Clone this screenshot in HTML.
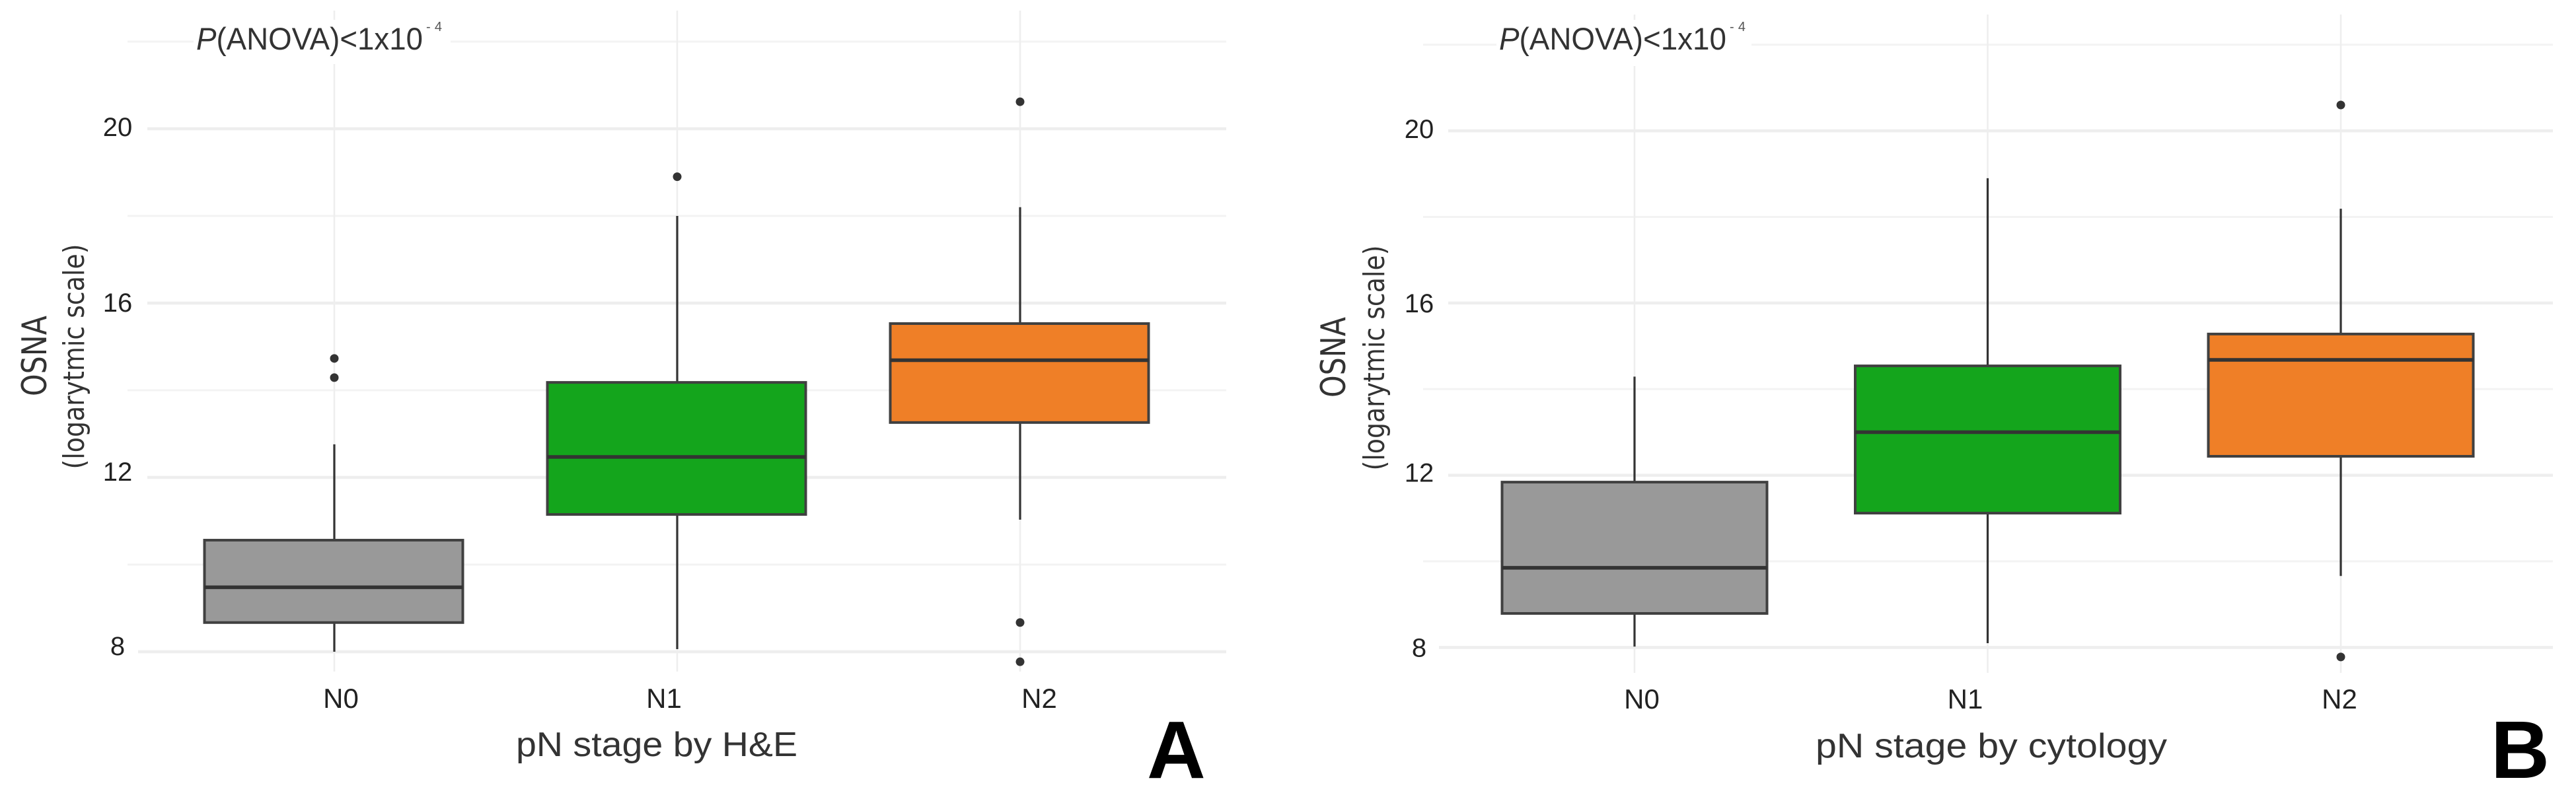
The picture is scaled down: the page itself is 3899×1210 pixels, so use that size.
<!DOCTYPE html>
<html lang="en">
<head>
<meta charset="utf-8">
<title>OSNA by pN stage</title>
<style>
html,body{margin:0;padding:0;background:#fff;width:3899px;height:1210px;overflow:hidden}
svg{display:block}
text{font-family:"Liberation Sans",sans-serif}
.tick{font-size:40px;fill:#222;text-anchor:middle}
.cat{font-size:42px;fill:#222;text-anchor:middle}
.xt{font-size:52px;fill:#333}
.y1{font-size:52px;fill:#333;font-family:"DejaVu Sans","Liberation Sans",sans-serif;text-anchor:middle}
.y2{font-size:44px;fill:#333;font-family:"DejaVu Sans","Liberation Sans",sans-serif;text-anchor:middle}
.ann{font-size:47px;fill:#333}
.sup{font-size:20px;fill:#555}
.panel{font-size:123px;font-weight:bold;fill:#000}
</style>
</head>
<body>
<svg id="figure" xmlns="http://www.w3.org/2000/svg" width="3899" height="1210" viewBox="0 0 3899 1210">
  <rect x="0" y="0" width="3899" height="1210" fill="#fff"/>
  <g id="chart-a"></g>
  <g id="chart-b"></g>

  <text class="y1" transform="translate(70,539) rotate(-90)" textLength="122" lengthAdjust="spacingAndGlyphs">OSNA</text>
  <text class="y2" transform="translate(127,540) rotate(-90)" textLength="341" lengthAdjust="spacingAndGlyphs">(logarytmic scale)</text>
  <text class="xt" x="781" y="1145" textLength="426" lengthAdjust="spacingAndGlyphs">pN stage by H&amp;E</text>
  <text class="ann" x="297" y="75" textLength="343" lengthAdjust="spacingAndGlyphs"><tspan font-style="italic">P</tspan>(ANOVA)&lt;1x10</text>
  <text class="sup" x="645" y="47" textLength="24" lengthAdjust="spacing">- 4</text>
  <text class="panel" x="1736" y="1178">A</text>

  <text class="y1" transform="translate(2036,541) rotate(-90)" textLength="122" lengthAdjust="spacingAndGlyphs">OSNA</text>
  <text class="y2" transform="translate(2095,542) rotate(-90)" textLength="341" lengthAdjust="spacingAndGlyphs">(logarytmic scale)</text>
  <text class="xt" x="2748" y="1147" textLength="532" lengthAdjust="spacingAndGlyphs">pN stage by cytology</text>
  <text class="ann" x="2269" y="75" textLength="344" lengthAdjust="spacingAndGlyphs"><tspan font-style="italic">P</tspan>(ANOVA)&lt;1x10</text>
  <text class="sup" x="2618" y="47" textLength="24" lengthAdjust="spacing">- 4</text>
  <text class="panel" x="3770" y="1178" textLength="89" lengthAdjust="spacingAndGlyphs">B</text>
</svg>

<script>
const categories = ['N0', 'N1', 'N2'];
const majorTicks = [8, 12, 16, 20];
const minorTicks = [10, 14, 18, 22];
const boxColors = ['#999999', '#14a51c', '#ef7f27'];

const q1A = [8.67, 11.15, 13.26];
const medianA = [9.48, 12.47, 14.69];
const q3A = [10.56, 14.18, 15.53];
const whiskerLowA = [8.0, 8.06, 11.03];
const whiskerHighA = [12.76, 18.0, 18.2];
const outliersA = [[14.73, 14.29], [18.9], [20.62, 8.67, 7.77]];

const q1B = [8.79, 11.12, 12.44];
const medianB = [9.85, 13.0, 14.68];
const q3B = [11.84, 14.54, 15.28];
const whiskerLowB = [8.02, 8.1, 9.66];
const whiskerHighB = [14.29, 18.9, 18.19];
const outliersB = [[], [], [20.6, 7.78]];

const SVGNS = 'http://www.w3.org/2000/svg';

function make(parent, tag, attrs) {
  const el = document.createElementNS(SVGNS, tag);
  Object.keys(attrs).forEach(function (k) { el.setAttribute(k, attrs[k]); });
  parent.appendChild(el);
  return el;
}

function drawChart(root, key, data, cfg) {
  const y = function (v) { return cfg.y8 - (v - 8) * cfg.yUnit; };
  const x = function (i) { return cfg.x0 + i * cfg.xStep; };

  minorTicks.forEach(function (v) {
    const line = make(root, 'line', { x1: cfg.minorStart, x2: cfg.right, y1: y(v), y2: y(v), stroke: '#f3f3f3', 'stroke-width': 3 });
    
    
  });
  majorTicks.forEach(function (v) {
    const line = make(root, 'line', { x1: v === 8 ? cfg.eightStart : cfg.majorStart, x2: cfg.right, y1: y(v), y2: y(v), stroke: '#eeeeee', 'stroke-width': 4.5 });
    
    
  });
  categories.forEach(function (c, i) {
    const line = make(root, 'line', { x1: x(i), x2: x(i), y1: cfg.vTop, y2: cfg.vBottom, stroke: '#eeeeee', 'stroke-width': 2.5 });
    
    
  });

  const mask = make(root, 'rect', { x: cfg.maskX, y: 30, width: cfg.maskW, height: cfg.maskBottom - 30, fill: '#fff' });
  
  

  categories.forEach(function (c, i) {
    const cx = x(i);
    const g = make(root, 'g', {});
    
    

    const whiskerUp = make(g, 'line', { x1: cx, x2: cx, y1: y(data.whiskerHigh[i]), y2: y(data.q3[i]), stroke: '#333', 'stroke-width': 3.2 });
    
    

    const whiskerDown = make(g, 'line', { x1: cx, x2: cx, y1: y(data.q1[i]), y2: y(data.whiskerLow[i]), stroke: '#333', 'stroke-width': 3.2 });
    
    

    const rect = make(g, 'rect', { x: cx - cfg.boxWidth / 2 + cfg.boxShift, y: y(data.q3[i]), width: cfg.boxWidth, height: y(data.q1[i]) - y(data.q3[i]), fill: boxColors[i], stroke: '#404040', 'stroke-width': 4 });
    
    

    const med = make(g, 'line', { x1: cx - cfg.boxWidth / 2 + cfg.boxShift, x2: cx + cfg.boxWidth / 2 + cfg.boxShift, y1: y(data.median[i]), y2: y(data.median[i]), stroke: '#333', 'stroke-width': 5.5 });
    
    

    data.outliers[i].forEach(function (v, n) {
      const dot = make(g, 'ellipse', { cx: cx, cy: y(v), rx: 6.5, ry: 6.5, fill: '#333' });
      
      
    });

    const label = make(root, 'text', { class: 'cat', x: cx + cfg.catNudge[i], y: cfg.catBaseline });
    
    
    label.textContent = c;
  });

  majorTicks.forEach(function (v, i) {
    const label = make(root, 'text', { class: 'tick', x: cfg.tickX, y: y(v) + cfg.tickNudge[i] });
    
    
    label.textContent = String(v);
  });
}

drawChart(document.getElementById('chart-a'), 'a',
  { q1: q1A, median: medianA, q3: q3A, whiskerLow: whiskerLowA, whiskerHigh: whiskerHighA, outliers: outliersA },
  { y8: 987, yUnit: 66, x0: 506, xStep: 519, boxWidth: 391, boxShift: -1, right: 1856, minorStart: 193, majorStart: 223, eightStart: 209,
    vTop: 16, vBottom: 1017, maskX: 293, maskW: 389, maskBottom: 97, tickX: 178, tickNudge: [5, 5, 13, 11], catNudge: [10, -20, 29], catBaseline: 1072 });

drawChart(document.getElementById('chart-b'), 'b',
  { q1: q1B, median: medianB, q3: q3B, whiskerLow: whiskerLowB, whiskerHigh: whiskerHighB, outliers: outliersB },
  { y8: 980.5, yUnit: 65.2, x0: 2474, xStep: 534.5, boxWidth: 401, boxShift: 0, right: 3864, minorStart: 2154, majorStart: 2192, eightStart: 2178,
    vTop: 22, vBottom: 1019, maskX: 2265, maskW: 386, maskBottom: 100, tickX: 2148, tickNudge: [14, 10, 14, 11], catNudge: [11, -34, -2], catBaseline: 1073 });
</script>
</body>
</html>
